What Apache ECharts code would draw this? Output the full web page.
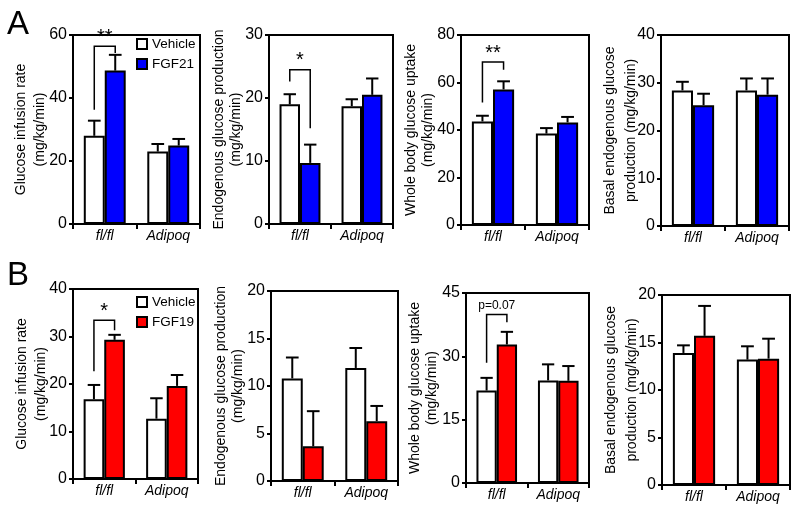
<!DOCTYPE html>
<html><head><meta charset="utf-8">
<script src="https://cdn.jsdelivr.net/npm/echarts@6/dist/echarts.min.js"></script>
<style>html,body{margin:0;padding:0;background:#fff}#c{width:799px;height:514px}</style>
</head><body><div id="c"></div>
<script>
// ---------- data ----------
const categories = ['fl/fl', 'Adipoq'];
const vehicleName = 'Vehicle';
const treatA = 'FGF21';
const treatB = 'FGF19';

const yTitles = [
  'Glucose infusion rate\n(mg/kg/min)',
  'Endogenous glucose production\n(mg/kg/min)',
  'Whole body glucose uptake\n(mg/kg/min)',
  'Basal endogenous glucose\nproduction (mg/kg/min)'
];

// Panel A (FGF21)
const a1Veh = [28.0, 23.0], a1VehSem = [4.8, 2.4], a1Trt = [48.7, 24.9], a1TrtSem = [5.0, 2.1];
const a2Veh = [19.0, 18.7], a2VehSem = [1.6, 1.1], a2Trt = [9.7, 20.5], a2TrtSem = [2.9, 2.6];
const a3Veh = [43.6, 38.5], a3VehSem = [2.4, 2.3], a3Trt = [57.1, 43.2], a3TrtSem = [3.4, 2.3];
const a4Veh = [28.4, 28.4], a4VehSem = [1.8, 2.5], a4Trt = [25.3, 27.5], a4TrtSem = [2.4, 3.4];
// Panel B (FGF19)
const b1Veh = [16.8, 12.7], b1VehSem = [3.0, 4.3], b1Trt = [29.3, 19.6], b1TrtSem = [1.05, 2.3];
const b2Veh = [10.8, 11.9], b2VehSem = [2.2, 2.1], b2Trt = [3.65, 6.3], b2TrtSem = [3.7, 1.6];
const b3Veh = [21.9, 24.3], b3VehSem = [3.0, 3.8], b3Trt = [32.8, 24.2], b3TrtSem = [3.0, 3.5];
const b4Veh = [13.9, 13.2], b4VehSem = [0.8, 1.4], b4Trt = [15.7, 13.3], b4TrtSem = [3.15, 2.1];

// y-axis maxima and tick intervals
const yMaxA = [60, 30, 80, 40], yIntA = [20, 10, 20, 10];
const yMaxB = [40, 20, 45, 20], yIntB = [10, 5, 15, 5];

// significance brackets (fl/fl group): [label, left leg end, bracket top, right leg end] in data units
const sigA1 = ['**', 36.3, 56.4, 54.3];
const sigA2 = ['*', 22.6, 24.5, 15.2];
const sigA3 = ['**', 51.6, 68.6, 65.4];
const sigB1 = ['*', 22.7, 33.4, 31.3];
const sigB3 = ['p=0.07', 28.5, 39.9, 38.1];

// ---------- styles / layout ----------
const FONT = '"Liberation Sans", Arial, Helvetica, sans-serif';
const BLUE = '#0000ff', RED = '#ff0000';
const panels = [
  {grid:{left:73, top:35, width:127, height:189}, max:yMaxA[0], interval:yIntA[0], title:yTitles[0], gap:23, lh:19, veh:a1Veh, vs:a1VehSem, trt:a1Trt, ts:a1TrtSem, tname:treatA, color:BLUE, sig:sigA1},
  {grid:{left:269, top:35, width:124, height:189}, max:yMaxA[1], interval:yIntA[1], title:yTitles[1], gap:24, lh:17, veh:a2Veh, vs:a2VehSem, trt:a2Trt, ts:a2TrtSem, tname:treatA, color:BLUE, sig:sigA2},
  {grid:{left:461, top:35, width:128, height:190}, max:yMaxA[2], interval:yIntA[2], title:yTitles[2], gap:24, lh:17, veh:a3Veh, vs:a3VehSem, trt:a3Trt, ts:a3TrtSem, tname:treatA, color:BLUE, sig:sigA3},
  {grid:{left:661, top:35, width:128, height:191}, max:yMaxA[3], interval:yIntA[3], title:yTitles[3], gap:19.5, lh:21, veh:a4Veh, vs:a4VehSem, trt:a4Trt, ts:a4TrtSem, tname:treatA, color:BLUE, sig:null},
  {grid:{left:73, top:289, width:125, height:190}, max:yMaxB[0], interval:yIntB[0], title:yTitles[0], gap:22.5, lh:19, veh:b1Veh, vs:b1VehSem, trt:b1Trt, ts:b1TrtSem, tname:treatB, color:RED, sig:sigB1},
  {grid:{left:271, top:291, width:127, height:190}, max:yMaxB[1], interval:yIntB[1], title:yTitles[1], gap:24, lh:17, veh:b2Veh, vs:b2VehSem, trt:b2Trt, ts:b2TrtSem, tname:treatB, color:RED, sig:null},
  {grid:{left:466, top:293, width:123, height:190}, max:yMaxB[2], interval:yIntB[2], title:yTitles[2], gap:25, lh:17, veh:b3Veh, vs:b3VehSem, trt:b3Trt, ts:b3TrtSem, tname:treatB, color:RED, sig:sigB3},
  {grid:{left:662, top:295, width:128, height:190}, max:yMaxB[3], interval:yIntB[3], title:yTitles[3], gap:19.5, lh:21, veh:b4Veh, vs:b4VehSem, trt:b4Trt, ts:b4TrtSem, tname:treatB, color:RED, sig:null}
];

const HALF = 0.165; // bar center offset as fraction of band width

function errRender(sign) {
  return function (params, api) {
    const i = api.value(0);
    const base = api.coord([i, api.value(1)]);
    const top = api.coord([i, api.value(2)]);
    const b = api.size([1, 0])[0];
    const x = base[0] + sign * b * HALF;
    const cw = b * 0.1;
    return {type:'group', children:[
      {type:'line', shape:{x1:x, y1:base[1], x2:x, y2:top[1]}, style:{stroke:'#000', lineWidth:2}},
      {type:'line', shape:{x1:x-cw, y1:top[1], x2:x+cw, y2:top[1]}, style:{stroke:'#000', lineWidth:2}}
    ]};
  };
}

function bracketRender(label) {
  const small = label.length > 2;
  return function (params, api) {
    const l = api.coord([0, api.value(1)]);
    const t = api.coord([0, api.value(2)]);
    const r = api.coord([0, api.value(3)]);
    const b = api.size([1, 0])[0];
    const x1 = l[0] - b * HALF, x2 = l[0] + b * HALF;
    return {type:'group', children:[
      {type:'polyline', shape:{points:[[x1, l[1]], [x1, t[1]], [x2, t[1]], [x2, r[1]]]}, style:{stroke:'#000', lineWidth:1.5, fill:null}},
      {type:'text', x:(x1 + x2) / 2, y: small ? t[1] - 3 : t[1] + 1,
        style:{text:label, align:'center', verticalAlign:'bottom', fontFamily:FONT, fontSize: small ? 12 : 20, fill:'#000'}}
    ]};
  };
}

const grid = [], xAxis = [], yAxis = [], series = [];
panels.forEach((p, k) => {
  grid.push(Object.assign({show:true, borderColor:'#000', borderWidth:2, backgroundColor:'transparent'}, p.grid));
  xAxis.push({type:'category', gridIndex:k, data:categories,
    axisLine:{lineStyle:{color:'#000', width:2}},
    axisTick:{show:true, length:5, inside:false, lineStyle:{color:'#000', width:2}},
    axisLabel:{color:'#000', fontFamily:FONT, fontSize:14, fontStyle:'italic', margin:5}});
  yAxis.push({type:'value', gridIndex:k, min:0, max:p.max, interval:p.interval,
    name:p.title, nameLocation:'middle', nameRotate:90, nameGap:p.gap, nameMoveOverlap:false,
    nameTextStyle:{color:'#000', fontFamily:FONT, fontSize:14, lineHeight:p.lh},
    axisLine:{show:true, lineStyle:{color:'#000', width:2}},
    axisTick:{show:true, length:4, lineStyle:{color:'#000', width:2}},
    splitLine:{show:false},
    axisLabel:{color:'#000', fontFamily:FONT, fontSize:16, margin:6}});
  const common = {type:'bar', xAxisIndex:k, yAxisIndex:k, barGap:'0%', barCategoryGap:'34%', animation:false};
  series.push(Object.assign({name:vehicleName, data:p.veh, itemStyle:{color:'#fff', borderColor:'#000', borderWidth:2}}, common));
  series.push(Object.assign({name:p.tname, data:p.trt, itemStyle:{color:p.color, borderColor:'#000', borderWidth:2}}, common));
  series.push({type:'custom', xAxisIndex:k, yAxisIndex:k, renderItem:errRender(-1), encode:{x:0, y:[1,2]}, z:5,
    data:categories.map((c, i) => [i, p.veh[i], p.veh[i] + p.vs[i]]), animation:false});
  series.push({type:'custom', xAxisIndex:k, yAxisIndex:k, renderItem:errRender(1), encode:{x:0, y:[1,2]}, z:5,
    data:categories.map((c, i) => [i, p.trt[i], p.trt[i] + p.ts[i]]), animation:false});
  if (p.sig) {
    series.push({type:'custom', xAxisIndex:k, yAxisIndex:k, renderItem:bracketRender(p.sig[0]), encode:{x:0, y:[1,2,3]}, z:6,
      data:[[0, p.sig[1], p.sig[2], p.sig[3]]], animation:false});
  }
});

const legendCommon = {orient:'vertical', icon:'rect', itemWidth:10, itemHeight:10, itemGap:6,
  textStyle:{color:'#000', fontFamily:FONT, fontSize:13.5}, selectedMode:false};

const option = {
  backgroundColor:'#fff',
  animation:false,
  grid, xAxis, yAxis, series,
  legend:[
    Object.assign({left:131, top:32, data:[vehicleName, treatA]}, legendCommon),
    Object.assign({left:131, top:290, data:[vehicleName, treatB]}, legendCommon)
  ],
  graphic:[
    {type:'text', left:7, top:8, style:{text:'A', fontFamily:FONT, fontSize:33, fill:'#000'}},
    {type:'text', left:7, top:259, style:{text:'B', fontFamily:FONT, fontSize:33, fill:'#000'}}
  ]
};

const chart = echarts.init(document.getElementById('c'), null, {renderer:'canvas'});
chart.setOption(option);
</script></body></html>
